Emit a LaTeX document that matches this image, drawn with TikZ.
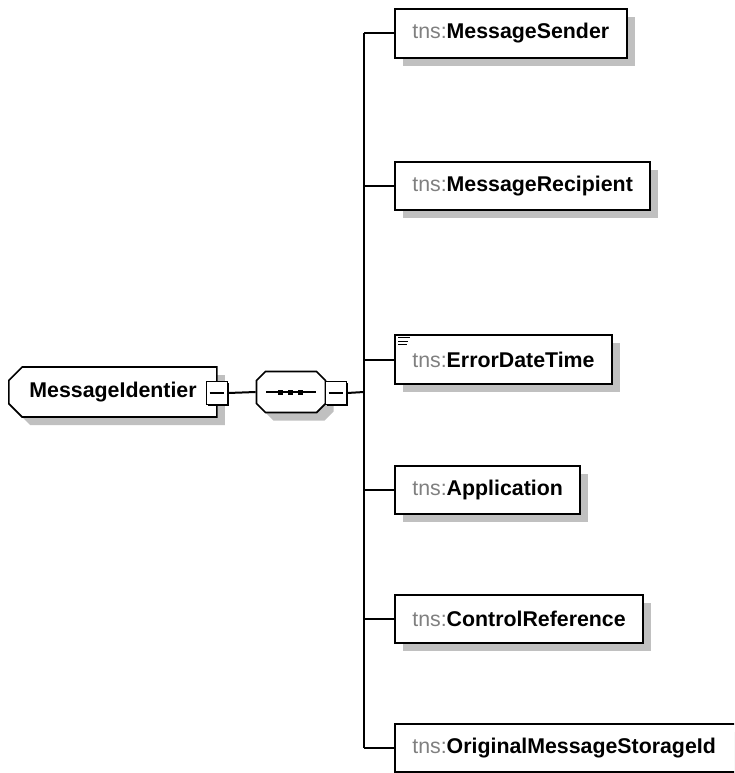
\documentclass[tikz,border=0pt]{standalone}
\usepackage{fontspec}
\setmainfont{Liberation Sans}
\usetikzlibrary{shapes.misc,shadows}
\definecolor{tnsgray}{RGB}{128,128,128}
\definecolor{shadowgray}{RGB}{192,192,192}
\begin{document}
\begin{tikzpicture}[x=0.75pt,y=0.75pt,yscale=-1,xscale=1,
	grayshadow/.style={drop shadow={shadow xshift=6pt,shadow yshift=-6pt,fill=shadowgray,opacity=1}},
	elem/.style={draw,line width=1.5pt,fill=white,anchor=west,inner xsep=13pt,minimum height=36.5pt,font=\fontsize{16}{19}\selectfont,grayshadow},
	toggle/.style={draw,line width=0.8pt,fill=white,minimum width=16pt,minimum height=17pt,inner sep=0pt,
		drop shadow={shadow xshift=1.3pt,shadow yshift=-1.3pt,fill=black,opacity=1},
		path picture={\draw[line width=1.2pt] ([xshift=2.5pt]path picture bounding box.west) -- ([xshift=-2.5pt]path picture bounding box.east);}},
	link/.style={line width=1.5pt}
]
	\useasboundingbox (0,0) rectangle (734,773);
	\clip (0,0) rectangle (734,773);

	% root element and sequence
	\node (root) at (8,392) [anchor=west,chamfered rectangle,chamfered rectangle corners={north west,south west},chamfered rectangle xsep=5pt,chamfered rectangle ysep=5pt,draw,line width=1.2pt,fill=white,text width=125pt,inner xsep=10.5pt,minimum height=37.5pt,align=left,font=\fontsize{16}{19}\selectfont,grayshadow] {\textbf{MessageIdentier}};
	\node (seq) at (291,392) [chamfered rectangle,chamfered rectangle xsep=6pt,chamfered rectangle ysep=8pt,draw,line width=1.2pt,fill=white,minimum width=51.75pt,minimum height=30.75pt,grayshadow] {};
	\draw[line width=1pt] ([xshift=-18.4pt]seq.center) -- ([xshift=18.4pt]seq.center);
	\foreach \dx in {-11,-1,9}
		\fill ([xshift=\dx*0.75pt]seq.center) ++(-2.5,-2.5) rectangle ++(5,5);
	\node (rootminus) at (217,393) [toggle] {};
	\node (seqminus) at (336,393) [toggle] {};
	\coordinate (trunk) at (364,392);

	% child elements
	\node (sender) at (394,33.5) [elem] {\textcolor{tnsgray}{tns:}\textbf{MessageSender}};
	\node (recipient) at (394,186) [elem] {\textcolor{tnsgray}{tns:}\textbf{MessageRecipient}};
	\node (errortime) at (394,359.5) [elem] {\textcolor{tnsgray}{tns:}\textbf{ErrorDateTime}};
	\node (application) at (394,490) [elem] {\textcolor{tnsgray}{tns:}\textbf{Application}};
	\node (controlref) at (394,619) [elem] {\textcolor{tnsgray}{tns:}\textbf{ControlReference}};
	\node (storage) at (394,748) [elem,text width=237pt,align=left] {\textcolor{tnsgray}{tns:}\textbf{OriginalMessageStorageId}};
	\foreach \w [count=\i] in {12,10,9}
		\draw[line width=1pt] ([shift={(4,3.5*\i)}]errortime.north west) -- ++(\w,0);

	% connectors
	\draw[link] (rootminus.east) -- (seq.west);
	\draw[link] (seqminus.east) -- (trunk);
	\draw[link] (trunk |- sender.west) -- (trunk |- storage.west);
	\foreach \c in {sender,recipient,errortime,application,controlref,storage}
		\draw[link] (trunk |- \c.west) -- (\c.west);
\end{tikzpicture}
\end{document}
